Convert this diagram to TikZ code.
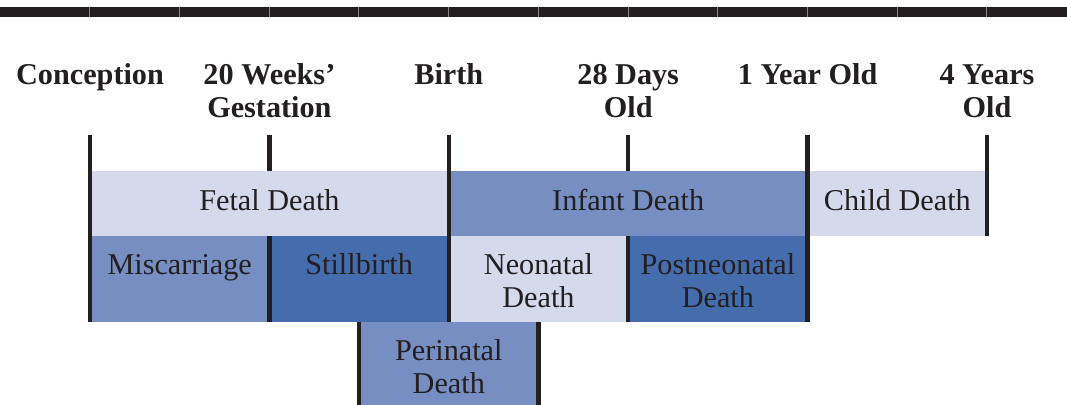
\documentclass[tikz,border=0pt]{standalone}
\usepackage{fontspec}
\setmainfont{Liberation Serif}
\usepackage{xcolor}
\usetikzlibrary{positioning}
\definecolor{dtInk}{HTML}{231F20}
\definecolor{dtLight}{HTML}{D4DAEB}
\definecolor{dtMid}{HTML}{768EC2}
\definecolor{dtDark}{HTML}{456DAE}
\definecolor{dtSeam}{HTML}{8A8788}
\tikzset{
  dt diagram/.style={x=0.025cm, y=-0.025cm, text=dtInk, line cap=butt},
  dt head/.style={font=\fontsize{21.5}{23.5}\selectfont\bfseries,
    align=center, anchor=base, inner sep=0pt},
  dt label/.style={font=\fontsize{21.5}{23.5}\selectfont,
    align=center, anchor=base, inner sep=0pt},
  dt rule/.style={draw=dtInk, line width=3pt},
  dt bar/.style={fill=dtInk},
  dt seam/.style={draw=dtSeam, line width=0.5pt}
}

\begin{document}
\begin{tikzpicture}[dt diagram]
\useasboundingbox (0,0) rectangle (1067,405);
% top rule
\fill[dt bar] (0,7) rectangle (1067,17);
\foreach \k in {1,...,11}{
  \draw[dt seam] (\k*89.7,7) -- (\k*89.7,17);
}
% colour bands
\foreach \xa/\xb/\ya/\yb/\col in {
  90/448.8/171/236/dtLight, 448.8/807.6/171/236/dtMid, 807.6/987/171/236/dtLight,
  90/269.4/236/322/dtMid, 269.4/448.8/236/322/dtDark,
  448.8/628.2/236/322/dtLight, 628.2/807.6/236/322/dtDark,
  359.1/538.5/322/405/dtMid}{
  \fill[\col] (\xa,\ya) rectangle (\xb,\yb);
}
% time points
\foreach \x/\nm in {90/tConception,269.4/tWeeks,448.8/tBirth,628.2/tDays,807.6/tYear,987/tFour}{
  \coordinate (\nm) at (\x,135);
}
\draw[dt rule] (tConception) -- ++(0,187);
\draw[dt rule] (tWeeks) -- ++(0,36) ++(0,65) -- ++(0,86);
\draw[dt rule] (tBirth) -- ++(0,187);
\draw[dt rule] (tDays) -- ++(0,36) ++(0,65) -- ++(0,86);
\draw[dt rule] (tYear) -- ++(0,187);
\draw[dt rule] (tFour) -- ++(0,101);
\coordinate (pLeft) at (359.1,322);
\coordinate (pRight) at (538.5,322);
\draw[dt rule] (pLeft) -- ++(0,83);
\draw[dt rule] (pRight) -- ++(0,83);
% headings (base = last line)
\foreach \x/\y/\txt/\nm in {90/85/Conception/hConception, 269.4/118/{20 Weeks'\\Gestation}/hWeeks,
  448.8/85/Birth/hBirth, 628.2/118/{28 Days\\Old}/hDays, 807.6/85/{1 Year Old}/hYear,
  987/118/{4 Years\\Old}/hFour}{
  \node[dt head] (\nm) at (\x,\y) {\txt};
}
% labels
\node[dt label] (fetal) at (269.4,211) {Fetal Death};
\node[dt label] (infant) at (628.2,211) {Infant Death};
\node[dt label] (child) at (897.3,211) {Child Death};
\node[dt label] (miscarriage) at (179.7,275) {Miscarriage};
\node[dt label] (stillbirth) at (359.1,275) {Stillbirth};
\node[dt label] (neonatal) at (538.5,308) {Neonatal\\Death};
\node[dt label] (postneonatal) at (717.9,308) {Postneonatal\\Death};
\node[dt label] (perinatal) at (448.8,394) {Perinatal\\Death};
\end{tikzpicture}
\end{document}
